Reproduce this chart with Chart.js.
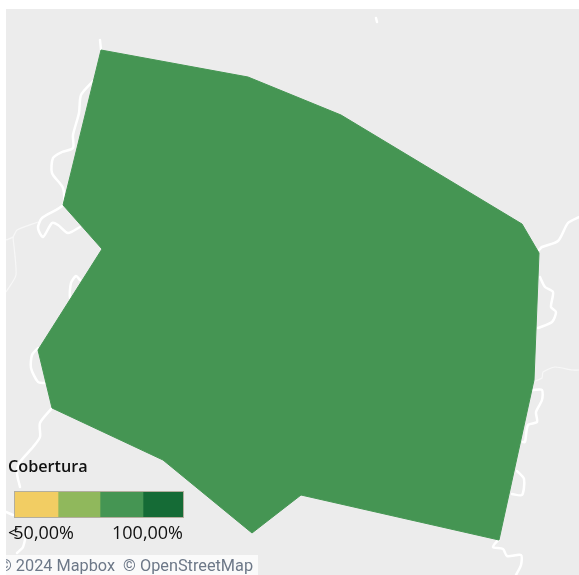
<!DOCTYPE html>
<html><head><meta charset="utf-8">
<script src="https://cdn.jsdelivr.net/npm/chart.js@4"></script>
<style>
html,body{margin:0;padding:0;background:#fff;width:579px;height:575px;overflow:hidden}
#mapBox{position:absolute;left:6px;top:9px;width:573px;height:566px;background:#ececec}
#legendBox{position:absolute;left:14px;top:491px;width:168px;height:25px;border:1px solid #b3ae9e}
.t{position:absolute;white-space:nowrap;color:#111}
#title{left:8px;top:455px;font:600 16.2px "Open Sans",sans-serif}
#lo{left:8px;top:520px;font:500 18px "Open Sans",sans-serif}
#lo span{margin-right:-5px}
#hi{left:112px;top:520px;font:500 18px "Open Sans",sans-serif}
#credit{position:absolute;left:6px;top:555px;width:252px;height:20px;background:rgba(255,255,255,.75);overflow:hidden}
#credit span{position:absolute;left:-7px;top:0;white-space:pre;color:#6d7888;font:16.3px/21px Roboto,sans-serif}
</style></head>
<body>
<div id="mapBox"><canvas id="map"></canvas></div>
<div id="legendBox"><canvas id="legend"></canvas></div>
<div class="t" id="title"></div>
<div class="t" id="lo"></div>
<div class="t" id="hi"></div>
<div id="credit"><span id="creditText"></span></div>
<script>
// Map data (map units = image coordinates)
const regionShape = [[101,50],[248,77],[341,115],[522,224],[539,253],[534,380],[499,540],[301,495],[252,533],[163,460],[52,408],[38,350],[102,249],[63,205],[101,50]];
const roadsMajor = [
 [[100,40],[101,50]],
 [[93,81],[81,95],[79,113],[73,135],[73,148],[62,152],[53,158],[52,173],[63,188],[63,205],[42,218],[38,228],[43,237],[52,223],[58,225],[68,233],[80,227]],
 [[74,298],[70,298],[71,283],[76,276],[80,280]],
 [[38,348],[32,355],[31,368],[38,382],[45,383]],
 [[539,250],[542,247],[558,241],[568,223],[579,217]],
 [[540,277],[545,287],[553,292],[551,307],[556,312],[552,322],[538,328]],
 [[533,390],[542,390],[542,400],[536,412],[537,422],[528,425],[525,442],[523,442]],
 [[517,471],[524,479],[522,495],[512,494]],
 [[499,539],[493,547],[503,549],[507,556],[521,555],[521,565],[516,575]],
 [[52,408],[40,423],[40,437],[33,447],[20,462],[17,473],[20,487]],
 [[6,512],[13,515]],
 [[27,530],[23,547],[17,553]],
 [[376,18],[377,22]]
];
const roadsMinor = [
 [[38,222],[17,230],[13,237],[6,240]],
 [[13,237],[16,275],[6,292]],
 [[535,381],[542,378],[543,372],[555,367],[572,370],[579,370]]
];
const regionColor = '#459553';
// Legend data
const legendTitle = 'Cobertura';
const binLabels = ['<', '50,00%', '100,00%'];
const binSizes = [43, 42, 43, 40];
const binColors = ['#f2cd63', '#90b85c', '#459553', '#156b36'];
const creditText = '© 2024 Mapbox  © OpenStreetMap';

const pts = a => a.map(p => ({x: p[0], y: p[1]}));
Chart.defaults.animation = false;
Chart.defaults.responsive = false;

const mapCanvas = document.getElementById('map');
mapCanvas.width = 573; mapCanvas.height = 566;
new Chart(mapCanvas, {
  type: 'scatter',
  data: {datasets: [
    {data: pts(regionShape), showLine: true, fill: 'shape', backgroundColor: regionColor, borderColor: regionColor, borderWidth: 1, pointRadius: 0, tension: 0},
    ...roadsMajor.map(r => ({data: pts(r), showLine: true, borderColor: '#ffffff', borderWidth: 2.5, pointRadius: 0, tension: 0.25, borderCapStyle: 'round', borderJoinStyle: 'round'})),
    ...roadsMinor.map(r => ({data: pts(r), showLine: true, borderColor: '#f7f7f7', borderWidth: 1.2, pointRadius: 0, tension: 0.2}))
  ]},
  options: {
    layout: {padding: 0},
    plugins: {legend: {display: false}, tooltip: {enabled: false}},
    scales: {
      x: {type: 'linear', display: false, min: 6, max: 579},
      y: {type: 'linear', display: false, min: 9, max: 575, reverse: true}
    }
  }
});

const legendCanvas = document.getElementById('legend');
legendCanvas.width = 168; legendCanvas.height = 25;
legendCanvas.style.display = 'block';
new Chart(legendCanvas, {
  type: 'bar',
  data: {labels: [legendTitle], datasets: binSizes.map((v, i) => ({data: [v], backgroundColor: binColors[i], barPercentage: 1, categoryPercentage: 1, borderWidth: 0}))},
  options: {
    indexAxis: 'y',
    layout: {padding: 0},
    plugins: {legend: {display: false}, tooltip: {enabled: false}},
    scales: {
      x: {stacked: true, display: false, min: 0, max: binSizes.reduce((a, b) => a + b, 0)},
      y: {stacked: true, display: false}
    }
  }
});

document.getElementById('title').textContent = legendTitle;
const lt = document.createElement('span');
lt.textContent = binLabels[0];
document.getElementById('lo').append(lt, binLabels[1]);
document.getElementById('hi').textContent = binLabels[2];
document.getElementById('creditText').textContent = creditText;
</script>
</body></html>
